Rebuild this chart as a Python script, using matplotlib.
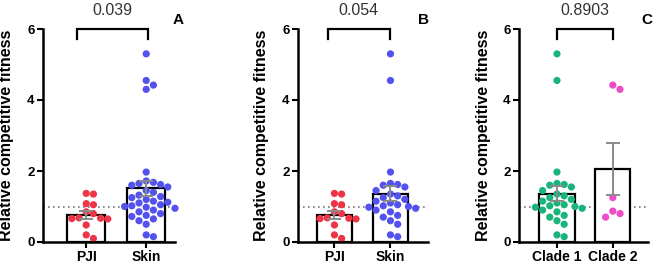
import numpy as np
import matplotlib
matplotlib.use("Agg")
import matplotlib.pyplot as plt

plt.rcParams["font.family"] = ["Liberation Sans", "DejaVu Sans"]

# ---- data ----
pji = [1.37, 1.35, 1.08, 1.05, 0.85, 0.8, 0.68, 0.67, 0.66, 0.65, 0.48, 0.2, 0.1]
skin_a = [5.3, 4.55, 4.42, 4.3, 1.97, 1.72, 1.68, 1.65, 1.62, 1.6, 1.55, 1.45,
          1.4, 1.32, 1.28, 1.25, 1.2, 1.15, 1.12, 1.1, 1.05, 1.02, 1.0, 0.98,
          0.95, 0.9, 0.85, 0.8, 0.75, 0.72, 0.65, 0.6, 0.5, 0.2, 0.15]
skin_b = [5.3, 4.55, 1.97, 1.65, 1.62, 1.6, 1.55, 1.45, 1.35, 1.3, 1.25, 1.2,
          1.15, 1.1, 1.05, 1.02, 1.0, 0.98, 0.95, 0.9, 0.85, 0.75, 0.7, 0.6,
          0.5, 0.2, 0.15]
clade1 = skin_b
clade2 = [4.42, 4.3, 1.25, 0.87, 0.8, 0.7]

panels = [
    dict(groups=["PJI", "Skin"], data=[pji, skin_a], p="0.039", letter="A"),
    dict(groups=["PJI", "Skin"], data=[pji, skin_b], p="0.054", letter="B"),
    dict(groups=["Clade 1", "Clade 2"], data=[clade1, clade2], p="0.8903", letter="C"),
]
colors = [["#ee3547", "#5452ee"], ["#ee3547", "#5452ee"], ["#18b47c", "#ee4cc6"]]

# layout (pixels) and per-panel x ranges
W, H = 658, 278
ax_px = [(43, 175), (298, 428), (519, 648)]
xlims = [(-0.72, 1.48), (-0.65, 1.67), (-0.68, 1.63)]
brackets = [(-0.15, 1.03), (-0.12, 0.99), (0.0, 1.0)]
letter_px = [(178, 20), (423, 20), (647, 20)]
y0, y1 = 242, 29


def swarm(vals, xscale, yscale, dia):
    """simple beeswarm: offsets (data units) so dots of diameter dia px don't overlap"""
    order = np.argsort(vals)[::-1]
    placed = []
    offs = np.zeros(len(vals))
    step = dia * 0.5
    for i in order:
        yp = vals[i] * yscale
        for k in range(60):
            cand = 0 if k == 0 else ((k + 1) // 2) * step * (1 if k % 2 else -1)
            if all((cand - px) ** 2 + (yp - py) ** 2 >= dia ** 2 for px, py in placed):
                break
        placed.append((cand, yp))
        offs[i] = cand / xscale
    return offs


fig = plt.figure(figsize=(W / 100, H / 100), dpi=100)
for pi, pan in enumerate(panels):
    l, r = ax_px[pi]
    ax = fig.add_axes([l / W, 1 - y0 / H, (r - l) / W, (y0 - y1) / H])
    xlo, xhi = xlims[pi]
    xscale = (r - l) / (xhi - xlo)
    yscale = (y0 - y1) / 6.0
    for gi, vals in enumerate(pan["data"]):
        v = np.array(vals)
        m = v.mean()
        sem = v.std(ddof=1) / np.sqrt(len(v))
        ax.bar(gi, m, width=0.63, color="white", edgecolor="black", lw=1.6, zorder=1)
        ax.scatter(gi + swarm(v, xscale, yscale, 7.2), v, s=27, color=colors[pi][gi],
                   edgecolor="none", zorder=2, clip_on=False)
        ax.errorbar(gi, m, yerr=sem, fmt="none", ecolor="#8a8a8a", elinewidth=1.4,
                    capsize=5, capthick=1.4, zorder=3)
    ax.axhline(1, color="#777777", ls=(0, (1, 2)), lw=1.2, zorder=0)

    # significance bracket
    bl, br = brackets[pi]
    ax.plot([bl, bl, br, br], [5.72, 6.0, 6.0, 5.72], color="black", lw=1.6,
            clip_on=False, solid_joinstyle="miter")
    ax.text((bl + br) / 2, 6.3, pan["p"], ha="center", va="bottom", fontsize=11.5,
            color="#333333")

    ax.set_xlim(xlo, xhi)
    ax.set_ylim(0, 6)
    ax.set_yticks([0, 2, 4, 6])
    ax.set_xticks([0, 1])
    ax.set_xticklabels(pan["groups"], fontsize=10, fontweight="bold")
    for t in ax.get_yticklabels():
        t.set_fontsize(9.5)
        t.set_fontweight("bold")
    ax.tick_params(width=1.5, length=4, pad=2)
    for s in ["top", "right"]:
        ax.spines[s].set_visible(False)
    for s in ["left", "bottom"]:
        ax.spines[s].set_linewidth(1.8)
    ax.set_ylabel("Relative competitive fitness", fontsize=11.5, fontweight="bold")
    ax.yaxis.set_label_coords(-0.22, 0.5)
    lx, ly = letter_px[pi]
    fig.text(lx / W, 1 - ly / H, pan["letter"], ha="center", va="center",
             fontsize=11, fontweight="bold")

fig.savefig("out.png", dpi=100)
